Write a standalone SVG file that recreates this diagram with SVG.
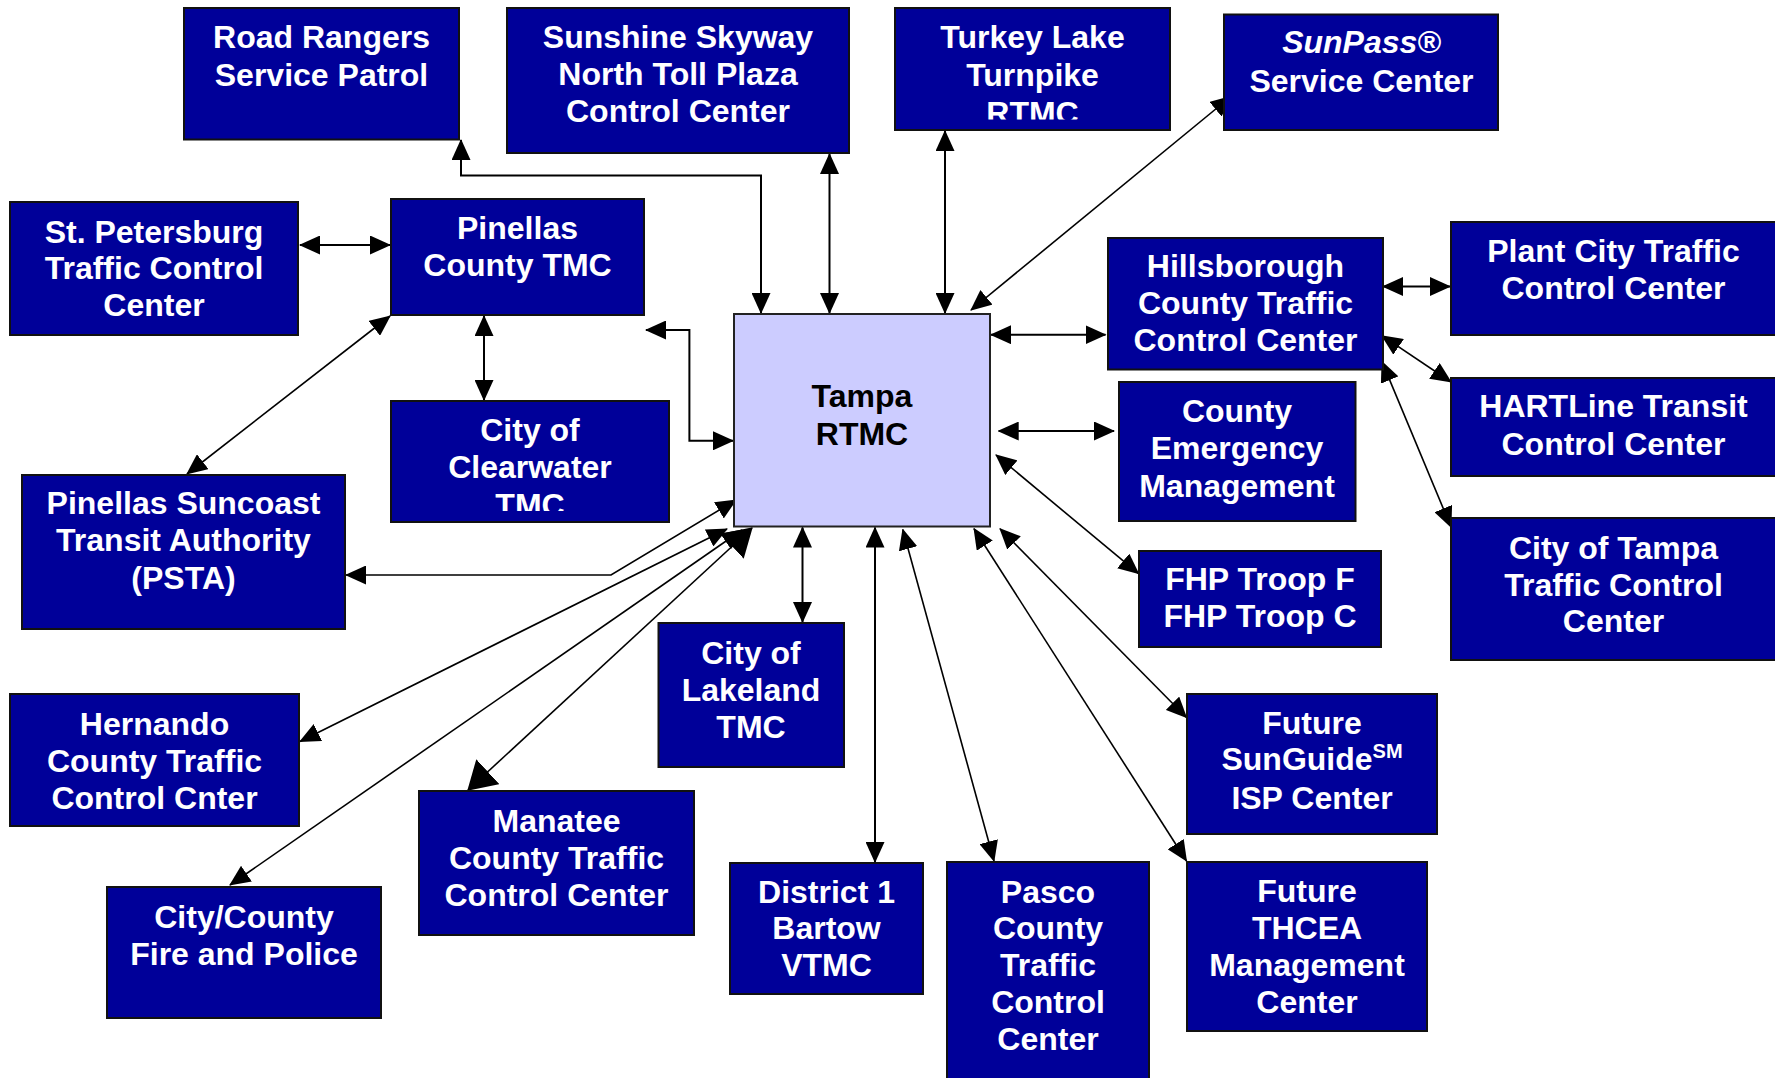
<svg xmlns="http://www.w3.org/2000/svg" width="1775" height="1078" viewBox="0 0 1775 1078">
<style>
.n{fill:#000099;stroke:#111;stroke-width:2}
.hub{fill:#CCCCFF;stroke:#222;stroke-width:2}
.t{fill:#fff;font-family:"Liberation Sans",Arial,sans-serif;font-weight:bold;font-size:32px;text-anchor:middle}
.tb{fill:#000;font-family:"Liberation Sans",Arial,sans-serif;font-weight:bold;font-size:32px;text-anchor:middle}
.c path{fill:none;stroke:#000;stroke-width:2;marker-start:url(#a);marker-end:url(#a)}
.c path.d{stroke-width:1.6}
.c path.big{marker-start:url(#b);marker-end:url(#b)}
</style>
<defs>
<marker id="a" markerUnits="userSpaceOnUse" markerWidth="21" markerHeight="19" viewBox="0 0 21 19" refX="20" refY="9.5" orient="auto-start-reverse"><path d="M0,0 L21,9.5 L0,19 z" fill="#000"/></marker>
<marker id="b" markerUnits="userSpaceOnUse" markerWidth="28" markerHeight="34" viewBox="0 0 28 34" refX="27" refY="17" orient="auto-start-reverse"><path d="M0,0 L28,17 L0,34 z" fill="#000"/></marker>
<clipPath id="clipTL"><rect x="895" y="8" width="275" height="111.5"/></clipPath>
<clipPath id="clipCW"><rect x="391" y="401" width="278" height="110"/></clipPath>
</defs>

<g id="connectors" class="c">
<path d="M461,140 V175.6 H761 V313"/>
<path d="M829.5,154 V313"/>
<path d="M945,131 V313"/>
<path class="d" d="M1231,96.5 L971,310"/>
<path d="M300,245 H390"/>
<path d="M484,316 V400"/>
<path class="d" d="M390,316 L187,474"/>
<path d="M646,330 H689.4 V440.8 H733"/>
<path class="d" d="M346,575 H611 L736,500"/>
<path class="d" d="M727,529 L300,741.5"/>
<path class="d" d="M742,530 L230,885"/>
<path class="d big" d="M752,528 L468,790"/>
<path d="M802.5,527.5 V622"/>
<path d="M875,527.5 V862"/>
<path class="d" d="M902.8,529.5 L994,861"/>
<path class="d" d="M974,528.7 L1186.5,861"/>
<path class="d" d="M1000,528.7 L1186.5,717.5"/>
<path class="d" d="M996,455 L1138.6,573.7"/>
<path d="M998.7,431 H1114"/>
<path d="M991,334.7 H1105.5"/>
<path d="M1383,286.5 H1450"/>
<path class="d" d="M1382,335.7 L1451,382"/>
<path class="d" d="M1382,361.6 L1451,527"/>
</g>

<g id="tampa-rtmc">
<rect class="hub" x="734" y="314" width="256" height="212.5"/>
<text class="tb" x="862" y="406.7">Tampa</text>
<text class="tb" x="862" y="445">RTMC</text>
</g>

<g id="road-rangers">
<rect class="n" x="184" y="8" width="275" height="131.5"/>
<text class="t" x="321.5" y="48.2">Road Rangers</text>
<text class="t" x="321.5" y="86.1">Service Patrol</text>
</g>

<g id="sunshine-skyway">
<rect class="n" x="507" y="8" width="342" height="145"/>
<text class="t" x="678" y="48.2">Sunshine Skyway</text>
<text class="t" x="678" y="85.4">North Toll Plaza</text>
<text class="t" x="678" y="122.2">Control Center</text>
</g>

<g id="turkey-lake">
<rect class="n" x="895" y="8" width="275" height="122"/>
<g clip-path="url(#clipTL)">
<text class="t" x="1032.5" y="48.2">Turkey Lake</text>
<text class="t" x="1032.5" y="86.2">Turnpike</text>
<text class="t" x="1032.5" y="124">RTMC</text>
</g>
</g>

<g id="sunpass">
<rect class="n" x="1224" y="14.5" width="274" height="115.5"/>
<text class="t" x="1361.5" y="53.3" font-style="italic">SunPass®</text>
<text class="t" x="1361.5" y="91.7">Service Center</text>
</g>

<g id="st-petersburg">
<rect class="n" x="10" y="202" width="288" height="133"/>
<text class="t" x="154" y="242.8">St. Petersburg</text>
<text class="t" x="154" y="279">Traffic Control</text>
<text class="t" x="154" y="315.5">Center</text>
</g>

<g id="pinellas-county-tmc">
<rect class="n" x="391" y="199" width="253" height="116"/>
<text class="t" x="517.5" y="239.3">Pinellas</text>
<text class="t" x="517.5" y="275.5">County TMC</text>
</g>

<g id="city-of-clearwater">
<rect class="n" x="391" y="401" width="278" height="121"/>
<g clip-path="url(#clipCW)">
<text class="t" x="530" y="440.8">City of</text>
<text class="t" x="530" y="478">Clearwater</text>
<text class="t" x="530" y="515.5">TMC</text>
</g>
</g>

<g id="psta">
<rect class="n" x="22" y="475" width="323" height="154"/>
<text class="t" x="183.5" y="513.5">Pinellas Suncoast</text>
<text class="t" x="183.5" y="551">Transit Authority</text>
<text class="t" x="183.5" y="588.5">(PSTA)</text>
</g>

<g id="hillsborough">
<rect class="n" x="1108" y="238" width="275" height="131.5"/>
<text class="t" x="1245.5" y="277">Hillsborough</text>
<text class="t" x="1245.5" y="314">County Traffic</text>
<text class="t" x="1245.5" y="351">Control Center</text>
</g>

<g id="plant-city">
<rect class="n" x="1451" y="222" width="335" height="113"/>
<text class="t" x="1613.5" y="261.7">Plant City Traffic</text>
<text class="t" x="1613.5" y="299">Control Center</text>
</g>

<g id="county-emergency">
<rect class="n" x="1119" y="382" width="236.5" height="139"/>
<text class="t" x="1237" y="421.8">County</text>
<text class="t" x="1237" y="458.7">Emergency</text>
<text class="t" x="1237" y="496.5">Management</text>
</g>

<g id="hartline">
<rect class="n" x="1451" y="378" width="335" height="98"/>
<text class="t" x="1613.5" y="416.7">HARTLine Transit</text>
<text class="t" x="1613.5" y="454.5">Control Center</text>
</g>

<g id="city-of-tampa">
<rect class="n" x="1451" y="518" width="335" height="142"/>
<text class="t" x="1613.5" y="559">City of Tampa</text>
<text class="t" x="1613.5" y="595.5">Traffic Control</text>
<text class="t" x="1613.5" y="632">Center</text>
</g>

<g id="fhp">
<rect class="n" x="1139" y="551" width="242" height="96"/>
<text class="t" x="1260" y="590.3">FHP Troop F</text>
<text class="t" x="1260" y="627.2">FHP Troop C</text>
</g>

<g id="future-sunguide">
<rect class="n" x="1187" y="694" width="250" height="140"/>
<text class="t" x="1312" y="734">Future</text>
<text class="t" x="1312" y="770">SunGuide<tspan font-size="20px" dy="-12">SM</tspan></text>
<text class="t" x="1312" y="809">ISP Center</text>
</g>

<g id="future-thcea">
<rect class="n" x="1187" y="862" width="240" height="169"/>
<text class="t" x="1307" y="901.8">Future</text>
<text class="t" x="1307" y="939.4">THCEA</text>
<text class="t" x="1307" y="976.2">Management</text>
<text class="t" x="1307" y="1013">Center</text>
</g>

<g id="pasco">
<rect class="n" x="947" y="862" width="202" height="230"/>
<text class="t" x="1048" y="902.5">Pasco</text>
<text class="t" x="1048" y="939.4">County</text>
<text class="t" x="1048" y="976">Traffic</text>
<text class="t" x="1048" y="1013">Control</text>
<text class="t" x="1048" y="1050">Center</text>
</g>

<g id="district-1">
<rect class="n" x="730" y="863" width="193" height="131"/>
<text class="t" x="826.5" y="902.5">District 1</text>
<text class="t" x="826.5" y="939.4">Bartow</text>
<text class="t" x="826.5" y="976">VTMC</text>
</g>

<g id="city-of-lakeland">
<rect class="n" x="658.5" y="623" width="185.5" height="144"/>
<text class="t" x="751" y="664">City of</text>
<text class="t" x="751" y="701">Lakeland</text>
<text class="t" x="751" y="737.5">TMC</text>
</g>

<g id="hernando">
<rect class="n" x="10" y="694" width="289" height="132"/>
<text class="t" x="154.5" y="735">Hernando</text>
<text class="t" x="154.5" y="772">County Traffic</text>
<text class="t" x="154.5" y="809">Control Cnter</text>
</g>

<g id="manatee">
<rect class="n" x="419" y="791" width="275" height="144"/>
<text class="t" x="556.5" y="831.7">Manatee</text>
<text class="t" x="556.5" y="868.6">County Traffic</text>
<text class="t" x="556.5" y="905.5">Control Center</text>
</g>

<g id="city-county-fire-police">
<rect class="n" x="107" y="887" width="274" height="131"/>
<text class="t" x="244" y="927.6">City/County</text>
<text class="t" x="244" y="965">Fire and Police</text>
</g>
</svg>
